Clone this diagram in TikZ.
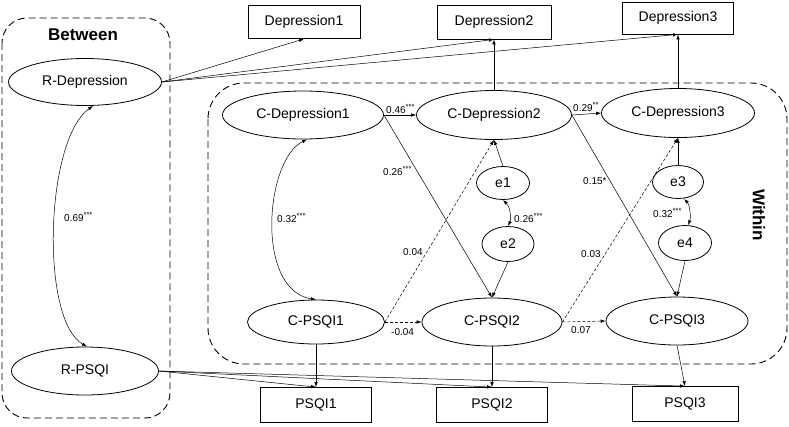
\documentclass[tikz,border=0pt]{standalone}
\usepackage{fontspec}
\setmainfont{Liberation Sans}
\usetikzlibrary{arrows.meta,shapes.geometric,calc}
\newcommand{\sigst}[1]{\raisebox{3.5pt}{\fontsize{7.5}{8}\selectfont #1}}
\begin{document}
\begin{tikzpicture}[x=1pt,y=-1pt,
 ell/.style={ellipse,draw,line width=0.8pt,inner sep=0pt,font=\fontsize{14}{16}\selectfont},
 obs/.style={rectangle,draw,line width=0.8pt,inner sep=0pt,font=\fontsize{14}{16}\selectfont},
 arr/.style={-{Latex[length=5pt,width=3.5pt]},line width=0.5pt},
 darr/.style={arr,dash pattern=on 3pt off 2pt},
 dbl/.style={{Latex[length=5pt,width=3.5pt]}-{Latex[length=5pt,width=3.5pt]},line width=0.5pt},
 lab/.style={anchor=west,inner sep=0pt,font=\fontsize{10}{12}\selectfont},
 grp/.style={draw,dash pattern=on 7pt off 4pt,line width=0.9pt},
 ttl/.style={font=\fontsize{17}{20}\selectfont\bfseries,inner sep=0pt},
]
\useasboundingbox (0,0) rectangle (789,426);
% groups
\draw[grp,rounded corners=25pt] (2,18) rectangle (170,418);
\draw[grp,rounded corners=36pt] (208,83) rectangle (787,364);
\node[ttl] (tbetween) at (83,35) {Between};
\node[ttl,rotate=-90] (twithin) at (759,215) {Within};
% observed
\node[obs,minimum width=112pt,minimum height=33pt] (d1) at (304,22) {Depression1};
\node[obs,minimum width=114pt,minimum height=34pt] (d2) at (494,22) {Depression2};
\node[obs,minimum width=111pt,minimum height=32pt] (d3) at (678,18) {Depression3};
\node[obs,minimum width=111pt,minimum height=35pt] (p1) at (316,405) {PSQI1};
\node[obs,minimum width=111pt,minimum height=35pt] (p2) at (492,405) {PSQI2};
\node[obs,minimum width=106pt,minimum height=35pt] (p3) at (685,404) {PSQI3};
% latent
\node[ell,minimum width=153pt,minimum height=47pt] (rdep) at (85,82) {R-Depression};
\node[ell,minimum width=147pt,minimum height=48pt] (rpsqi) at (85,371) {R-PSQI};
\node[ell,minimum width=161pt,minimum height=48pt] (cd1) at (303,115) {C-Depression1};
\node[ell,minimum width=155pt,minimum height=49pt] (cd2) at (494,115) {C-Depression2};
\node[ell,minimum width=153pt,minimum height=49pt] (cd3) at (678,113) {C-Depression3};
\node[ell,minimum width=137pt,minimum height=44pt] (cp1) at (316,322) {C-PSQI1};
\node[ell,minimum width=140pt,minimum height=48pt] (cp2) at (492,322) {C-PSQI2};
\node[ell,minimum width=142pt,minimum height=48pt] (cp3) at (677,321) {C-PSQI3};
\node[ell,minimum width=53pt,minimum height=33pt] (e1) at (503,183) {e1};
\node[ell,minimum width=52pt,minimum height=35pt] (e2) at (508,244) {e2};
\node[ell,minimum width=51pt,minimum height=33pt] (e3) at (678,182) {e3};
\node[ell,minimum width=53pt,minimum height=35pt] (e4) at (685,243) {e4};
% loadings
\draw[arr] (rdep.east) -- (d1.south);
\draw[arr] (rdep.east) -- (d2.south);
\draw[arr] (rdep.east) -- (d3.south);
\draw[arr] (rpsqi.east) -- (p1.north);
\draw[arr] (rpsqi.east) -- (p2.north);
\draw[arr] (rpsqi.east) -- (p3.north);
\draw[arr] (cd2.north) -- (d2.south);
\draw[arr] (cd3.north) -- (d3.south);
\draw[arr] (cp1.south) -- (p1.north);
\draw[arr] (cp2.south) -- (p2.north);
\draw[arr] (cp3.south) -- (p3.north);
% structural
\draw[arr] (cd1.east) -- (cd2.west);
\draw[arr] (cd2.east) -- (cd3.west);
\draw[arr] (cd1.east) -- (cp2.north);
\draw[arr] (cd2.east) -- (cp3.north);
\draw[darr] (cp1.east) -- (cd2.south);
\draw[darr] (cp2.east) -- (cd3.south);
\draw[darr] (cp1.east) -- (cp2.west);
\draw[darr] (cp2.east) -- (cp3.west);
\draw[arr] (e1.north) -- (cd2.south);
\draw[arr] (e3.north) -- (cd3.south);
\draw[arr] (e2.south) -- (cp2.north);
\draw[arr] (e4.south) -- (cp3.north);
% covariances
\draw[dbl] ($(rdep.south)+(8,0)$) .. controls (45,140) and (40,320) .. ($(rpsqi.north)+(2,0)$);
\draw[dbl] ($(cd1.south)+(4,0)$) .. controls (265,160) and (255,290) .. (cp1.north);
\draw[dbl] (e1.south) .. controls (511,208) and (511,220) .. (e2.north);
\draw[dbl] ($(e3.south)+(6,0)$) .. controls (690,205) and (691,218) .. ($(e4.north)+(3,0)$);
% labels
\node[lab] (l1) at (64,217) {0.69\sigst{***}};
\node[lab] (l2) at (277,218) {0.32\sigst{***}};
\node[lab] (l3) at (386,109) {0.46\sigst{***}};
\node[lab] (l4) at (383,171) {0.26\sigst{***}};
\node[lab] (l5) at (573,107) {0.29\sigst{**}};
\node[lab] (l6) at (583,181) {0.15*};
\node[lab] (l7) at (403,252) {0.04};
\node[lab] (l8) at (581,254) {0.03};
\node[lab] (l9) at (391,332) {-0.04};
\node[lab] (l10) at (571,330) {0.07};
\node[lab] (l11) at (514,218) {0.26\sigst{***}};
\node[lab] (l12) at (653,213) {0.32\sigst{***}};
\end{tikzpicture}
\end{document}
